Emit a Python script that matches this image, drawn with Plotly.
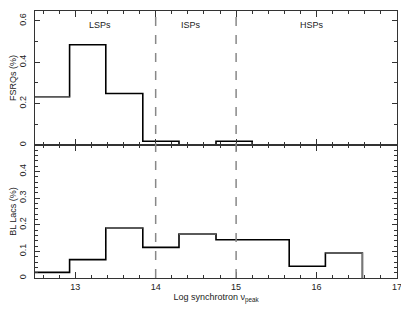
import plotly.graph_objects as go

# Bin edges (log synchrotron nu_peak)
bin_edges = [12.48, 12.93, 13.38, 13.84, 14.29, 14.75, 15.20, 15.66, 16.11, 16.57]
fsrq_vals = [0.233, 0.485, 0.249, 0.018, 0.0, 0.018]
bllac_vals = [0.021, 0.069, 0.188, 0.115, 0.165, 0.144, 0.144, 0.044, 0.094]
# bins whose top edge is drawn lighter in the original
fsrq_grey_bins = [0]
bllac_grey_bins = [2, 4, 8]

class_bounds = [14, 15]
class_labels = ["LSPs", "ISPs", "HSPs"]
class_label_x = [13.31, 14.44, 15.94]

FONT = "Liberation Sans, Arial, sans-serif"


def step_xy(edges, vals):
    xs, ys = [], []
    for i, v in enumerate(vals):
        xs += [edges[i], edges[i + 1]]
        ys += [v, v]
    xs.append(edges[len(vals)])
    ys.append(0)
    return xs, ys


fig = go.Figure()

for vals, grey, xa, ya in [(fsrq_vals, fsrq_grey_bins, "x", "y"),
                           (bllac_vals, bllac_grey_bins, "x2", "y2")]:
    xs, ys = step_xy(bin_edges, vals)
    fig.add_trace(go.Scatter(x=xs, y=ys, mode="lines", xaxis=xa, yaxis=ya,
                             line=dict(color="black", width=1.6),
                             hoverinfo="skip", showlegend=False))
    for b in grey:
        gx = [bin_edges[b], bin_edges[b + 1]]
        gy = [vals[b], vals[b]]
        if b == len(vals) - 1:
            gx.append(bin_edges[b + 1])
            gy.append(0)
        fig.add_trace(go.Scatter(x=gx, y=gy, mode="lines", xaxis=xa, yaxis=ya,
                                 line=dict(color="#777777", width=1.2),
                                 hoverinfo="skip", showlegend=False))

split = (278 - 145) / 267.0

common_x = dict(range=[12.5, 17], ticks="inside", ticklen=6, tickwidth=1.2,
                dtick=1, tick0=13, showline=True, linecolor="#333333",
                linewidth=1.2, mirror="ticks", showgrid=False, zeroline=False,
                automargin=False,
                minor=dict(ticks="inside", ticklen=3, dtick=0.2, tick0=13,
                           tickcolor="#333333"),
                tickcolor="#333333",
                tickfont=dict(family=FONT, size=9, color="#222222"))

common_y = dict(tickangle=-90, ticks="inside", ticklen=5, tickwidth=1,
                tickcolor="#333333", showline=True, linecolor="#333333",
                linewidth=1.2, mirror="ticks", showgrid=False, zeroline=False,
                automargin=False, ticklabelstandoff=4,
                tickfont=dict(family=FONT, size=9, color="#222222"))

# the page body adds an 8 px margin, so the figure is 8 px smaller
fig.update_layout(
    width=401, height=301,
    margin=dict(l=27, r=12, t=3, b=31),
    plot_bgcolor="white", paper_bgcolor="white",
    font=dict(family=FONT, size=9, color="#222222"),
    xaxis=dict(common_x, anchor="y", showticklabels=False),
    xaxis2=dict(common_x, anchor="y2", matches="x",
                title=dict(text="Log synchrotron ν<sub>peak</sub>",
                           font=dict(family=FONT, size=9), standoff=0)),
    yaxis=dict(common_y, domain=[split, 1], range=[0, 0.648], anchor="x",
               tickvals=[0, 0.2, 0.4, 0.6], ticktext=["0", "0.2", "0.4", "0.6"],
               minor=dict(ticks="inside", ticklen=3, dtick=0.1, tick0=0,
                          tickcolor="#333333"),
               title=dict(text="FSRQs (%)", font=dict(family=FONT, size=9),
                          standoff=1)),
    yaxis2=dict(common_y, domain=[0, split], range=[0, 0.5], anchor="x2",
                tickvals=[0, 0.1, 0.2, 0.3, 0.4],
                ticktext=["0", "0.1", "0.2", "0.3", "0.4"],
                minor=dict(ticks="inside", ticklen=3, dtick=0.02, tick0=0,
                           tickcolor="#333333"),
                title=dict(text="BL Lacs (%)", font=dict(family=FONT, size=9),
                           standoff=1)),
)

for xb in class_bounds:
    fig.add_shape(type="line", xref="x", yref="paper", x0=xb, x1=xb, y0=0, y1=1,
                  line=dict(color="#888888", width=1.5, dash="dash"))

for lab, lx in zip(class_labels, class_label_x):
    fig.add_annotation(x=lx, y=0.578, xref="x", yref="y", text=lab,
                       showarrow=False, font=dict(family=FONT, size=9, color="#222222"))

fig.write_html("out.html")
